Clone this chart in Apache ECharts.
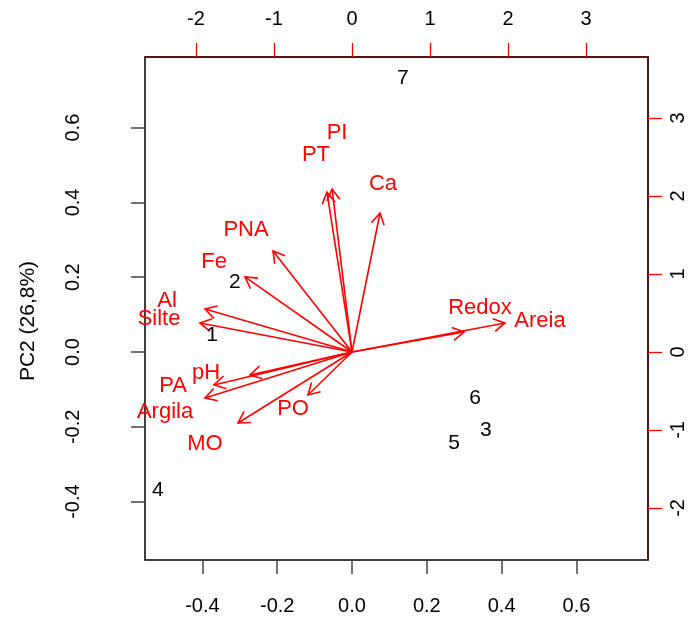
<!DOCTYPE html>
<html>
<head>
<meta charset="utf-8">
<script src="https://cdn.jsdelivr.net/npm/echarts@6/dist/echarts.min.js"></script>
<style>
html,body{margin:0;padding:0;background:#fff;}
#chart{width:689px;height:618px;}
</style>
</head>
<body>
<div id="chart"></div>
<script>
// ---- data ----
// observations (scores) on PC1 / PC2 (bottom / left axes)
var obsNames = ['1', '2', '3', '4', '5', '6', '7'];
var obsPC1 = [-0.374, -0.313, 0.358, -0.519, 0.273, 0.329, 0.136];
var obsPC2 = [0.045, 0.187, -0.209, -0.369, -0.243, -0.123, 0.733];

// variables (loadings) on top / right axes
var varNames = ['Redox', 'Areia', 'Ca', 'PT', 'PI', 'PNA', 'Fe', 'Al', 'Silte', 'pH', 'PA', 'Argila', 'PO', 'MO'];
var arrowX = [1.436, 1.962, 0.359, -0.321, -0.256, -1.013, -1.372, -1.885, -1.949, -1.308, -1.769, -1.885, -0.564, -1.462];
var arrowY = [0.256, 0.372, 1.782, 2.051, 2.090, 1.295, 0.962, 0.551, 0.372, -0.295, -0.423, -0.590, -0.551, -0.910];
var labelX = [1.641, 2.410, 0.397, -0.462, -0.192, -1.359, -1.769, -2.372, -2.474, -1.872, -2.295, -2.397, -0.756, -1.885];
var labelY = [0.564, 0.397, 2.154, 2.526, 2.808, 1.564, 1.154, 0.654, 0.423, -0.269, -0.436, -0.769, -0.731, -1.179];

// tick labels
var pcTicks = [-0.4, -0.2, 0.0, 0.2, 0.4, 0.6];
var loadTicks = [-2, -1, 0, 1, 2, 3];
var yTitle = 'PC2 (26,8%)';

// ---- chart ----
var FONT = "'Liberation Sans', Arial, sans-serif";
var RED = '#ff0000';
var chart = echarts.init(document.getElementById('chart'), null, {renderer: 'canvas'});

function primaryAxis(pos, min, max, rot, margin) {
  return {
    type: 'value', position: pos, min: min, max: max,
    splitLine: {show: false},
    axisLine: {show: false, onZero: false},
    axisTick: {show: true, length: 14, customValues: pcTicks, lineStyle: {color: '#444', width: 1.5}},
    axisLabel: {customValues: pcTicks, rotate: rot, margin: margin, fontSize: 20, fontFamily: FONT, color: '#000',
      formatter: function (v) { return v.toFixed(1); }}
  };
}
function secondaryAxis(pos, min, max, rot, margin) {
  return {
    type: 'value', position: pos, min: min, max: max,
    splitLine: {show: false},
    axisLine: {show: true, onZero: false, lineStyle: {color: '#5c0808', width: 1.5}},
    axisTick: {show: true, length: 14, customValues: loadTicks, lineStyle: {color: RED, width: 1.3}},
    axisLabel: {customValues: loadTicks, rotate: rot, margin: margin, fontSize: 20, fontFamily: FONT, color: '#000',
      formatter: function (v) { return String(v); }}
  };
}

var obsData = obsNames.map(function (n, i) { return [obsPC1[i], obsPC2[i]]; });
var arrowData = varNames.map(function (n, i) { return [arrowX[i], arrowY[i]]; });
var varLabelData = varNames.map(function (n, i) { return [labelX[i], labelY[i]]; });

function textItem(names, color, size) {
  return function (params, api) {
    var p = api.coord([api.value(0), api.value(1)]);
    return {
      type: 'text', x: p[0], y: p[1],
      style: {text: names[params.dataIndex], fill: color, fontSize: size, fontFamily: FONT,
        align: 'center', verticalAlign: 'middle'}
    };
  };
}

var option = {
  animation: false,
  backgroundColor: '#fff',
  grid: {left: 145, right: 41, top: 57, bottom: 58, show: true, borderColor: '#000', borderWidth: 1.5, backgroundColor: 'transparent'},
  xAxis: [
    primaryAxis('bottom', -0.5535, 0.7914, 0, 36),
    secondaryAxis('top', -2.654, 3.795, 0, 28)
  ],
  yAxis: [
    primaryAxis('left', -0.5561, 0.7888, 90, 62),
    secondaryAxis('right', -2.667, 3.782, 90, 20)
  ],
  graphic: [{
    type: 'text', x: 28, y: 321, rotation: Math.PI / 2,
    style: {text: yTitle, fontSize: 21, fontFamily: FONT, fill: '#000', align: 'center', verticalAlign: 'middle'}
  }],
  series: [
    {
      type: 'custom', name: 'arrows', xAxisIndex: 1, yAxisIndex: 1, data: arrowData,
      renderItem: function (params, api) {
        var o = api.coord([0, 0]);
        var t = api.coord([api.value(0), api.value(1)]);
        var ang = Math.atan2(t[1] - o[1], t[0] - o[0]);
        var L = 13, a = Math.PI / 6;
        var h1 = [t[0] - L * Math.cos(ang - a), t[1] - L * Math.sin(ang - a)];
        var h2 = [t[0] - L * Math.cos(ang + a), t[1] - L * Math.sin(ang + a)];
        return {
          type: 'group', children: [
            {type: 'line', shape: {x1: o[0], y1: o[1], x2: t[0], y2: t[1]}, style: {stroke: RED, lineWidth: 1.6}},
            {type: 'polyline', shape: {points: [h1, t, h2]}, style: {stroke: RED, fill: null, lineWidth: 1.6}}
          ]
        };
      }
    },
    {type: 'custom', name: 'varLabels', xAxisIndex: 1, yAxisIndex: 1, data: varLabelData, renderItem: textItem(varNames, RED, 22)},
    {type: 'custom', name: 'obs', xAxisIndex: 0, yAxisIndex: 0, data: obsData, renderItem: textItem(obsNames, '#000', 21)}
  ]
};
chart.setOption(option);
</script>
</body>
</html>
